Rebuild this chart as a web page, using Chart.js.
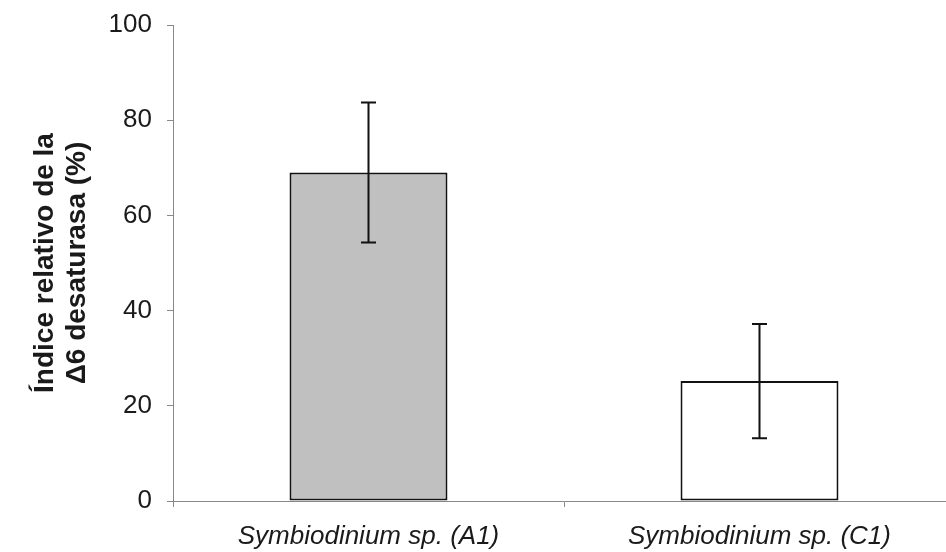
<!DOCTYPE html>
<html>
<head>
<meta charset="utf-8">
<script src="https://cdn.jsdelivr.net/npm/chart.js@4/dist/chart.umd.min.js"></script>
<style>
  html, body { margin: 0; padding: 0; background: #ffffff; overflow: hidden; }
  #wrap { position: relative; width: 955px; height: 552px; }
</style>
</head>
<body>
<div id="wrap"><canvas id="c" width="955" height="552"></canvas></div>
<script>
// Relative Δ6 desaturase index by Symbiodinium clade
const categories = ['Symbiodinium sp. (A1)', 'Symbiodinium sp. (C1)'];
const meanValues = [69.0, 25.2];
const errorValues = [14.7, 12.0];
const barFills = ['#c0c0c0', '#ffffff'];
const yTicks = [0, 20, 40, 60, 80, 100];

const axisGrey = '#888888';
const textColor = '#1a1a1a';
const fontFamily = '"Liberation Sans", Arial, Helvetica, sans-serif';

// Draws symmetric error bars with end caps on top of each bar
const errorBarPlugin = {
  id: 'errorBars',
  afterDatasetsDraw(chart) {
    const { ctx, scales } = chart;
    const meta = chart.getDatasetMeta(0);
    ctx.save();
    ctx.strokeStyle = '#111111';
    ctx.lineWidth = 2;
    meta.data.forEach((bar, i) => {
      const x = bar.x;
      const yHi = scales.y.getPixelForValue(meanValues[i] + errorValues[i]);
      const yLo = scales.y.getPixelForValue(meanValues[i] - errorValues[i]);
      const cap = 7.5;
      ctx.beginPath();
      ctx.moveTo(x, yHi); ctx.lineTo(x, yLo);
      ctx.moveTo(x - cap, yHi); ctx.lineTo(x + cap, yHi);
      ctx.moveTo(x - cap, yLo); ctx.lineTo(x + cap, yLo);
      ctx.stroke();
    });
    ctx.restore();
  }
};

new Chart(document.getElementById('c'), {
  type: 'bar',
  data: {
    labels: categories,
    datasets: [{
      data: meanValues,
      backgroundColor: barFills,
      borderColor: '#111111',
      borderWidth: 2,
      borderSkipped: false,
      barPercentage: 0.404,
      categoryPercentage: 1.0
    }]
  },
  options: {
    responsive: false,
    animation: false,
    devicePixelRatio: 1,
    layout: { padding: { top: 25, right: 0, bottom: 0, left: 0 } },
    plugins: {
      legend: { display: false },
      tooltip: { enabled: false }
    },
    scales: {
      x: {
        grid: {
          offset: true,
          drawOnChartArea: false,
          drawTicks: true,
          tickLength: 6,
          color: axisGrey,
          lineWidth: 1
        },
        border: { display: true, color: axisGrey, width: 1 },
        ticks: {
          color: textColor,
          padding: 14,
          maxRotation: 0,
          font: { family: fontFamily, size: 26, style: 'italic' }
        },
        afterFit(scale) { scale.height = 51; }
      },
      y: {
        min: 0,
        max: 100,
        afterBuildTicks(scale) { scale.ticks = yTicks.map(v => ({ value: v })); },
        grid: {
          drawOnChartArea: false,
          drawTicks: true,
          tickLength: 6,
          color: axisGrey,
          lineWidth: 1
        },
        border: { display: true, color: axisGrey, width: 1 },
        ticks: {
          color: textColor,
          padding: 15,
          font: { family: fontFamily, size: 26 }
        },
        title: {
          display: true,
          text: ['Índice relativo de la', 'Δ6 desaturasa (%)'],
          color: textColor,
          padding: { top: 29, bottom: 0 },
          font: { family: fontFamily, size: 28, weight: 'bold', lineHeight: 1.14 }
        },
        afterFit(scale) {
          scale.width = 173;
          scale.paddingTop = 0;
          scale.paddingBottom = 0;
        }
      }
    }
  },
  plugins: [errorBarPlugin]
});
</script>
</body>
</html>
